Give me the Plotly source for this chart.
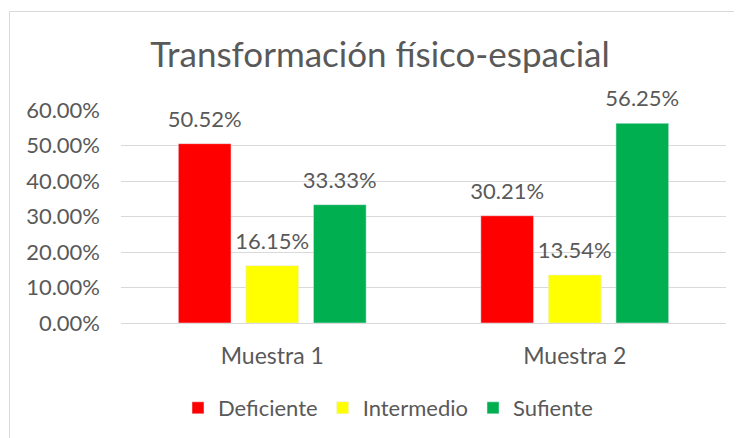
import plotly.graph_objects as go

categories = ["Muestra 1", "Muestra 2"]
series_names = ["Deficiente", "Intermedio", "Sufiente"]
deficiente = [0.5052, 0.3021]
intermedio = [0.1615, 0.1354]
sufiente = [0.3333, 0.5625]
colors = ["#FF0000", "#FFFF00", "#00B050"]
tick_vals = [0, 0.1, 0.2, 0.3, 0.4, 0.5, 0.6]
tick_text = ["0.00%", "10.00%", "20.00%", "30.00%", "40.00%", "50.00%", "60.00%"]

FONT = "Lato, sans-serif"
GREY = "#595959"

fig = go.Figure()
for name, vals, col in zip(series_names, [deficiente, intermedio, sufiente], colors):
    fig.add_trace(go.Bar(
        x=categories, y=vals, name=name, marker_color=col,
        offsetgroup=name,
    ))
for name, vals in zip(series_names, [deficiente, intermedio, sufiente]):
    fig.add_trace(go.Scatter(
        x=categories, y=vals, mode="markers+text", showlegend=False,
        marker=dict(size=17, color="rgba(0,0,0,0)"),
        text=[f"{v*100:.2f}%" for v in vals], textposition="top center",
        textfont=dict(size=22, color=GREY, family=FONT), cliponaxis=False,
        offsetgroup=name, hoverinfo="skip",
    ))

# page body adds 8px offset; layout is in figure coordinates
W, H = 734, 430
L, R, T, B = 113, 16, 102, 115
pw = W - L - R
ph = H - T - B

fig.update_layout(
    width=W, height=H,
    margin=dict(l=L, r=R, t=T, b=B, autoexpand=False),
    paper_bgcolor="white", plot_bgcolor="white",
    barmode="group", bargap=0.33, bargroupgap=0.22,
    scattermode="group", scattergap=0.33,
    font=dict(family=FONT, color=GREY, size=22),
    title=dict(text="Transformación físico-espacial", x=372 / W, xanchor="center",
               xref="container", y=1 - 47 / H, yanchor="middle", yref="container",
               font=dict(size=35, color=GREY, family=FONT)),
    legend=dict(orientation="h", x=380 / W, xanchor="center", xref="container",
                y=1 - 400 / H, yanchor="middle", yref="container",
                font=dict(size=22, color=GREY, family=FONT),
                itemwidth=30, traceorder="normal"),
    showlegend=True,
)
fig.update_yaxes(range=[0, 0.6], tickvals=tick_vals, ticktext=tick_text,
                 showgrid=True, gridcolor="#D9D9D9", gridwidth=1,
                 zeroline=False, showline=False, ticks="", ticklabelstandoff=20,
                 tickfont=dict(size=22, color=GREY, family=FONT))
fig.update_xaxes(showline=True, linecolor="#D9D9D9", ticks="", ticklabelstandoff=12,
                 tickfont=dict(size=23, color=GREY, family=FONT))

# chart border
fig.add_shape(type="rect", xref="paper", yref="paper",
              x0=(1.5 - L) / pw, x1=(760 - L) / pw,
              y0=-(460 - (T + ph)) / ph, y1=(T + ph - 3.5) / ph,
              line=dict(color="#D9D9D9", width=1), layer="below")

fig.write_html("out.html")
